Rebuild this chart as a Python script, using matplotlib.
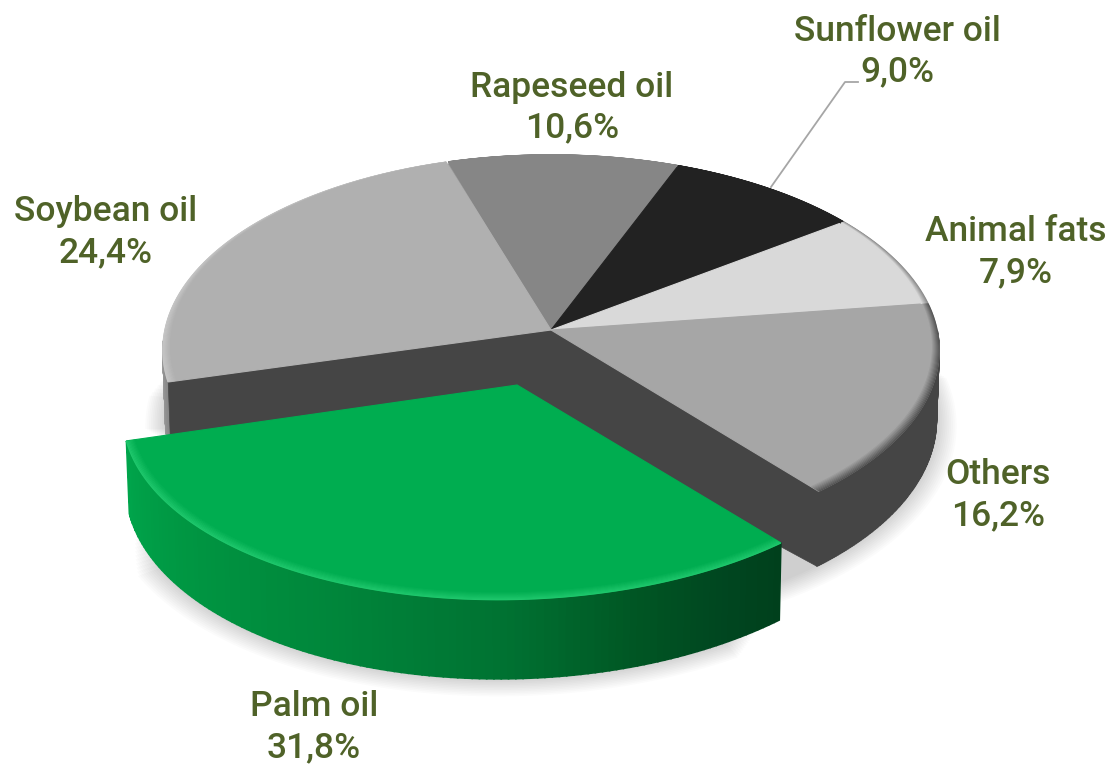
"""
Vegetable oils and fats, share of world production: exploded 3D pie
"""
import matplotlib.pyplot as plt
import numpy as np

categories = ['Rapeseed oil', 'Sunflower oil', 'Animal fats', 'Others', 'Palm oil', 'Soybean oil']
shares = [10.6, 9.0, 7.9, 16.2, 31.8, 24.4]

top_colors = ['#868686', '#222222', '#d9d9d9', '#a6a6a6', '#00ad50', '#b0b0b0']
rim_colors = ['#868686', '#222222', '#8a8a8a', '#555555', '#1fc76c', '#c6c6c6']
label_pos = [(572, 107.5), (897, 51.5), (1016, 252), (998, 495), (314, 727), (106, 232)]

start_angle = 107
explode = 0.275

# perspective of the disc, all in pixels
cx, cy = 551, 330
rx, ry = 386, 193
persp = 0.1026
depth = 69

# the exploded slice is a bit flatter than the disc, tweak around its tip
palm_tip = (518, 382)
palm_fix = (0.9858, -0.0297, -0.0105, 0.9414, -1, 3)

plt.rcParams['font.family'] = ['Roboto', 'DejaVu Sans']

fig = plt.figure(figsize=(11.1, 7.65), dpi=100)
ax = fig.add_axes([0, 0, 1, 1])
ax.set_xlim(0, 1110)
ax.set_ylim(765, 0)
ax.axis('off')


def rgb(color):
    return np.array([int(color[i:i + 2], 16) / 255 for i in (1, 3, 5)])


def project(x, y, drop=0.0, flat=False):
    w = 1 / (1 + persp * y)
    shrink = 1 - 0.007 * drop / depth
    px = cx + rx * x * w * shrink
    py = cy - ry * y * w
    if flat:
        a, b, c, d, dx, dy = palm_fix
        ux, uy = px - palm_tip[0], py - palm_tip[1]
        px = palm_tip[0] + dx + a * ux + b * uy
        py = palm_tip[1] + dy + c * ux + d * uy
    return px, py + drop * w


def arc(t1, t2, r=1.0, n=120):
    t = np.radians(np.linspace(t1, t2, n))
    return r * np.cos(t), r * np.sin(t)


def wall(t1, t2, angles, colors, off=(0, 0), zorder=3, flat=False):
    # side of a slice as thin strips so the shading can follow the angle
    ts = np.linspace(t1, t2, 120)
    cols = np.array([rgb(c) for c in colors])
    for a, b in zip(ts[:-1], ts[1:]):
        xs = np.cos(np.radians([a, b])) + off[0]
        ys = np.sin(np.radians([a, b])) + off[1]
        px1, py1 = project(xs, ys, flat=flat)
        px2, py2 = project(xs, ys, depth, flat=flat)
        mid_t = (a + b) / 2
        col = [np.interp(mid_t, angles, cols[:, i]) for i in range(3)]
        ax.fill(np.r_[px1, px2[::-1]], np.r_[py1, py2[::-1]], color=col, lw=1.2, zorder=zorder)


def shadow(t1, t2, off=(0, 0), flat=False):
    for e in np.linspace(0.0, 0.05, 12):
        x, y = arc(t1 + e * 200, t2 - e * 100, 1 + e)
        px, py = project(x + off[0], y + off[1] - e * 0.4, depth, flat=flat)
        ax.fill(np.r_[px, cx], np.r_[py, cy + 100], color='black', alpha=0.014, lw=0, zorder=1)


def top_face(t1, t2, color, rim, off=(0, 0), zorder=4, flat=False):
    x, y = arc(t1, t2)
    px, py = project(np.r_[off[0], x + off[0]], np.r_[off[1], y + off[1]], flat=flat)
    ax.fill(px, py, color=color, lw=0.8, zorder=zorder)
    # bevel along the outer edge, wider towards the viewer
    t = np.radians(np.linspace(t1, t2, 160))
    width = 0.034 * (0.55 - 0.45 * np.sin(t))
    for f in np.linspace(1, 0, 9):
        col = rgb(rim) * f + rgb(color) * (1 - f)
        r = 1 - width * (1 - f)
        px, py = project(r * np.cos(t) + off[0], r * np.sin(t) + off[1], flat=flat)
        ax.plot(px, py, color=col, lw=1.1, zorder=zorder + 0.5, solid_capstyle='butt')


# slice limits from the shares, clockwise from the start angle
edges = start_angle - np.r_[0, np.cumsum(shares)] * 3.6
palm = categories.index('Palm oil')
mid = np.radians((edges[palm] + edges[palm + 1]) / 2)
off = (explode * np.cos(mid), explode * np.sin(mid))

shadow(-70, 12)
shadow(-192, -168)
shadow(edges[palm + 1] + 5, edges[palm] - 4, off, flat=True)

# left rim of the soybean slice and right side of the disc
wall(edges[palm + 1] - 12, edges[palm + 1], [-177, -165], ['#a8a8a8', '#8a8a8a'])
wall(edges[palm], 0, [-51, 0], ['#454545', '#454545'])

# underlay so no white shows in the seams between the slices
ux, uy = arc(0, 360, 0.99, 240)
ux, uy = project(ux, uy)
ax.fill(ux, uy, color='#9a9a9a', lw=0, zorder=3.2)

# cut faces seen through the gap, the far end is hidden by the palm slice
for t in (edges[palm], edges[palm + 1]):
    c, s = np.cos(np.radians(t)), np.sin(np.radians(t))
    px, py = project(np.array([0, c]), np.array([0, s]))
    qx, qy = project(np.array([c]), np.array([s]), depth)
    ax.fill(np.r_[px, qx, cx], np.r_[py, qy, cy + 92], color='#454545', lw=0.5, zorder=3.5)

for i in range(len(shares)):
    if i != palm:
        top_face(edges[i + 1], edges[i], top_colors[i], rim_colors[i])

# exploded slice goes on top of everything else
wall(edges[palm + 1], edges[palm], [-165, -140, -115, -90, -72, -60, -50],
     ['#00a64c', '#009642', '#00873b', '#007232', '#005523', '#004620', '#00401c'],
     off, zorder=6, flat=True)
top_face(edges[palm + 1], edges[palm], top_colors[palm], rim_colors[palm], off, zorder=7, flat=True)

# leader line of the sunflower label
ax.plot([771, 845, 858], [187, 82, 82], color='#a6a6a6', lw=1.3, zorder=9)

for name, share, (lx, ly) in zip(categories, shares, label_pos):
    label = name + '\n' + f'{share:.1f}'.replace('.', ',') + '%'
    ax.text(lx, ly, label, ha='center', va='center', fontsize=25.5, fontweight='medium',
            color='#4f6228', linespacing=1.3, zorder=10)

fig.savefig('out.png', dpi=100)
